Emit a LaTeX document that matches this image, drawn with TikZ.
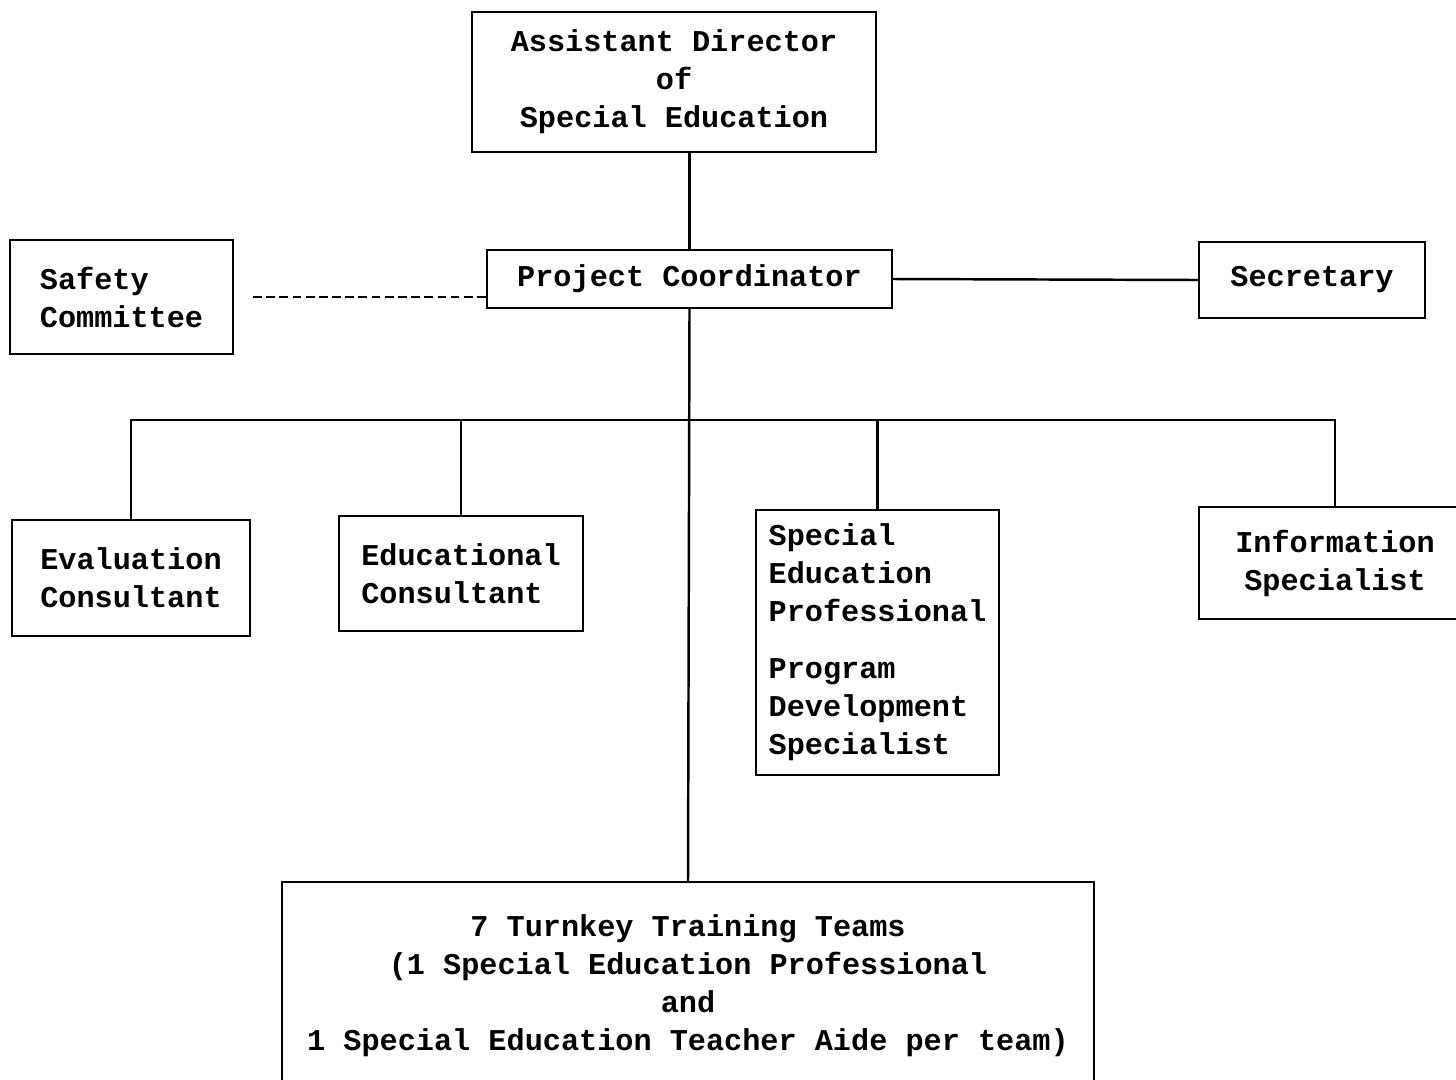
\documentclass[tikz,border=0pt]{standalone}
\usepackage{fontspec}
\setmonofont{Liberation Mono}
\usepackage{tikz}
\tikzstyle{every picture}=[line width=1.4pt]

\begin{document}
\begin{tikzpicture}[x=0.02cm,y=-0.02cm,
    box/.style={draw, inner sep=0pt, align=center,
      font=\ttfamily\bfseries\fontsize{17.2}{21.6}\selectfont}]
    \useasboundingbox (0,0) rectangle (1456,1079);
    \clip (0,0) rectangle (1456,1079);
    \node[box, minimum width=8.08cm, minimum height=2.8cm] (director) at (674,82)
      {Assistant Director\\of\\Special Education};
    \node[box, minimum width=8.1cm, minimum height=1.16cm] (coordinator) at (689.5,279)
      {Project Coordinator};
    \node[box, minimum width=4.46cm, minimum height=2.28cm, align=left] (safety) at (121.5,297)
      {Safety\\Committee};
    \node[box, minimum width=4.52cm, minimum height=1.52cm] (secretary) at (1312,280)
      {Secretary};
    \node[box, minimum width=4.76cm, minimum height=2.32cm] (evaluation) at (131,578)
      {Evaluation\\Consultant};
    \node[box, minimum width=4.88cm, minimum height=2.3cm, align=left] (educational) at (461,573.5)
      {Educational\\Consultant};
    \node[box, minimum width=4.86cm, minimum height=5.3cm, align=left] (professional) at (877.5,642.5)
      {Special\\Education\\Professional\\[11pt]Program\\Development\\Specialist};
    \node[box, minimum width=5.44cm, minimum height=2.24cm] (information) at (1335,563)
      {Information\\Specialist};
    \node[box, minimum width=16.24cm, minimum height=4.16cm] (teams) at (688,986)
      {7 Turnkey Training Teams\\(1 Special Education Professional\\and\\1 Special Education Teacher Aide per team)};
    \coordinate (bus) at (0,420);
    \draw (coordinator.north |- director.south) to (coordinator.north);
    \draw[dashed, dash pattern=on 5pt off 2.5pt, shorten >=0.34cm]
      (coordinator.west |- safety.east) to (safety.east);
    \draw (coordinator.east) to (secretary.west);
    \draw (coordinator.south) to (teams.north);
    \draw (evaluation.north) |- (information.north |- bus) to (information.north);
    \draw (educational.north) to (educational.north |- bus);
    \draw (professional.north) to (professional.north |- bus);
\end{tikzpicture}
\end{document}
